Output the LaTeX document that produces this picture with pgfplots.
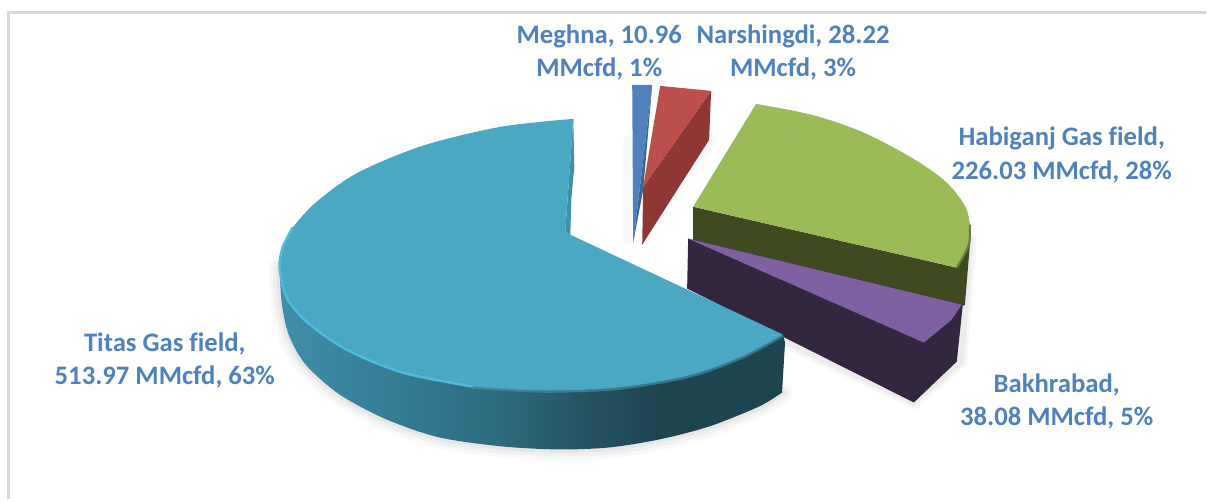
\documentclass[border=0pt]{standalone}
\usepackage{pgfplots}
\usepackage{fontspec}
\setmainfont{Carlito}[Ligatures=NoCommon]
\pgfplotsset{compat=1.18}
\definecolor{lab}{HTML}{4F81BD}
\definecolor{frame}{HTML}{D9D9D9}
\definecolor{titas}{HTML}{4AA8C2}
\definecolor{titasin}{HTML}{3F8FA8}
\definecolor{titasdk}{HTML}{1E4450}
\definecolor{hilite}{HTML}{4DBCDC}
\definecolor{bluet}{HTML}{4F81BD}
\definecolor{blued}{HTML}{3C6795}
\definecolor{redt}{HTML}{BC4F4C}
\definecolor{redd}{HTML}{8F3735}
\definecolor{greent}{HTML}{9BBB59}
\definecolor{greend}{HTML}{3F4A21}
\definecolor{purpt}{HTML}{7F60A0}
\definecolor{purpd}{HTML}{33273F}
\definecolor{s0}{HTML}{3F8FA9}
\definecolor{s1}{HTML}{347C92}
\definecolor{s2}{HTML}{2D6A7D}
\definecolor{s3}{HTML}{25525F}
\definecolor{s4}{HTML}{1E4450}
\pgfdeclarehorizontalshading{titasside}{100bp}{
 color(0bp)=(s0);
 color(25bp)=(s0);
 color(37bp)=(s1);
 color(47bp)=(s2);
 color(56bp)=(s3);
 color(63bp)=(s4);
 color(100bp)=(s4)}
\pgfplotstableread{
x y
574 119
501 127
423 146
358 173
317 202
293 228
283 248
280 268
287 298
308 323
347 350
403 373
}\titasA
\pgfplotstableread{
x y
403 373
473 387
546 391
620 388
690 376
743 357
784 335
}\titasB
\pgfplotstableread{
x y
280 268
282 303
289 335
306 365
340 395
387 420
440 438
503 447
560 450
610 448
660 440
710 427
760 407
783 393
}\titasBottom
\pgfplotstableread{
x y
757 104
813 115
863 132
913 158
947 182
967 208
972 235
968 252
958 268
}\greenArc
\begin{document}
\begin{tikzpicture}
\begin{axis}[
  scale only axis, width=1207pt, height=502pt,
  xmin=0, xmax=1207, ymin=0, ymax=502, y dir=reverse,
  hide axis, clip=false]
% page extent
\addplot[draw=none] coordinates {(0,0) (1207,502)};
% frame
\addplot[frame, line width=3pt] coordinates {(1207,13) (9,13) (9,500)};
% shadows
\addplot[gray, smooth, opacity=0.05, line width=22pt, line cap=round] table {\titasBottom};
\addplot[gray, smooth, opacity=0.07, line width=14pt, line cap=round] table {\titasBottom};
\addplot[gray, smooth, opacity=0.09, line width=7pt, line cap=round] table {\titasBottom};
\addplot[gray, opacity=0.07, line width=12pt, line cap=round] coordinates {(972,240) (962,362) (915,403) (788,343)};
\addplot[gray, opacity=0.09, line width=6pt, line cap=round] coordinates {(972,240) (962,362) (915,403) (788,343)};
\addplot[gray, opacity=0.05, line width=10pt, line cap=round] coordinates {(712,140) (694,170)};
\addplot[gray, opacity=0.05, line width=10pt, line cap=round] coordinates {(629,140) (629,240)};
% Meghna
\addplot[fill=bluet, draw=none] coordinates {(633,85) (653,85) (634,243)} --cycle;
\addplot[fill=blued, draw=none] coordinates {(653,85) (644,190) (634,243)} --cycle;
% Narshingdi
\addplot[fill=redd, draw=none] coordinates {(712,91) (710,140) (643,245) (644,187)} --cycle;
\addplot[fill=redt, draw=none] coordinates {(661,86) (712,91) (644,187)} --cycle;
% Habiganj
\addplot[fill=greend, draw=none] coordinates {(694,207) (958,268) (972,235) (969,270) (966,306) (694,244)} --cycle;
\addplot[fill=greent, draw=none] coordinates {(757,104) (694,207) (958,268)} --cycle;
\addplot[fill=greent, draw=none, smooth] table {\greenArc};
\addplot[greent, line width=1.2pt] coordinates {(759,107) (956,266)};
\addplot[color=greend!55!greent, line width=2pt, smooth] coordinates {(971,225) (970,245) (958,268)};
% Bakhrabad
\addplot[fill=purpd, draw=none] coordinates {(689,239) (964,305) (958,362) (915,403) (688,289)} --cycle;
\addplot[fill=purpt, draw=none] coordinates {(689,239) (963,305) (953,320) (925,343)} --cycle;
% Titas
\addplot[shading=titasside, draw=none, smooth] table {\titasBottom};
\addplot[fill=titasdk, draw=none] coordinates {(700,370) (784,335) (786,343) (783,393) (700,428)} --cycle;
\addplot[fill=titasin, draw=none] coordinates {(574,119) (575,167) (572,200) (571,236) (566,232)} --cycle;
\addplot[fill=titas, draw=none, smooth] table {\titasA};
\addplot[fill=titas, draw=none, smooth] table {\titasB};
\addplot[fill=titas, draw=none] coordinates {(574,119) (566,232) (571,235) (784,335) (403,373) (280,268)} --cycle;
\addplot[titas, line width=1.5pt] coordinates {(574,120) (281,268)};
\addplot[titas, line width=1.5pt] coordinates {(281,268) (403,372)};
\addplot[titas, line width=1.5pt] coordinates {(405,372) (782,336)};
\addplot[color=hilite, line width=2.5pt, smooth, line cap=round] coordinates {(293,228) (283,248) (280,268) (287,298) (308,323) (347,350) (403,373) (473,387)};
\addplot[color=titasin, line width=2.5pt, smooth, opacity=0.7] coordinates {(473,388) (546,392) (620,389) (690,377) (743,358) (784,336)};
% labels
\begin{scope}[every node/.style={text=lab, align=center, font=\fontsize{26.7}{33.5}\selectfont\bfseries, inner sep=0pt}]
\node at (axis cs:600,52.5) {Meghna, 10.96\\MMcfd, 1\%};
\node at (axis cs:794,52.5) {Narshingdi, 28.22\\MMcfd, 3\%};
\node at (axis cs:1063,155) {Habiganj Gas field,\\226.03 MMcfd, 28\%};
\node at (axis cs:1058,402) {Bakhrabad,\\38.08 MMcfd, 5\%};
\node at (axis cs:165,361) {Titas Gas field,\\513.97 MMcfd, 63\%};
\end{scope}
\end{axis}
\end{tikzpicture}
\end{document}
